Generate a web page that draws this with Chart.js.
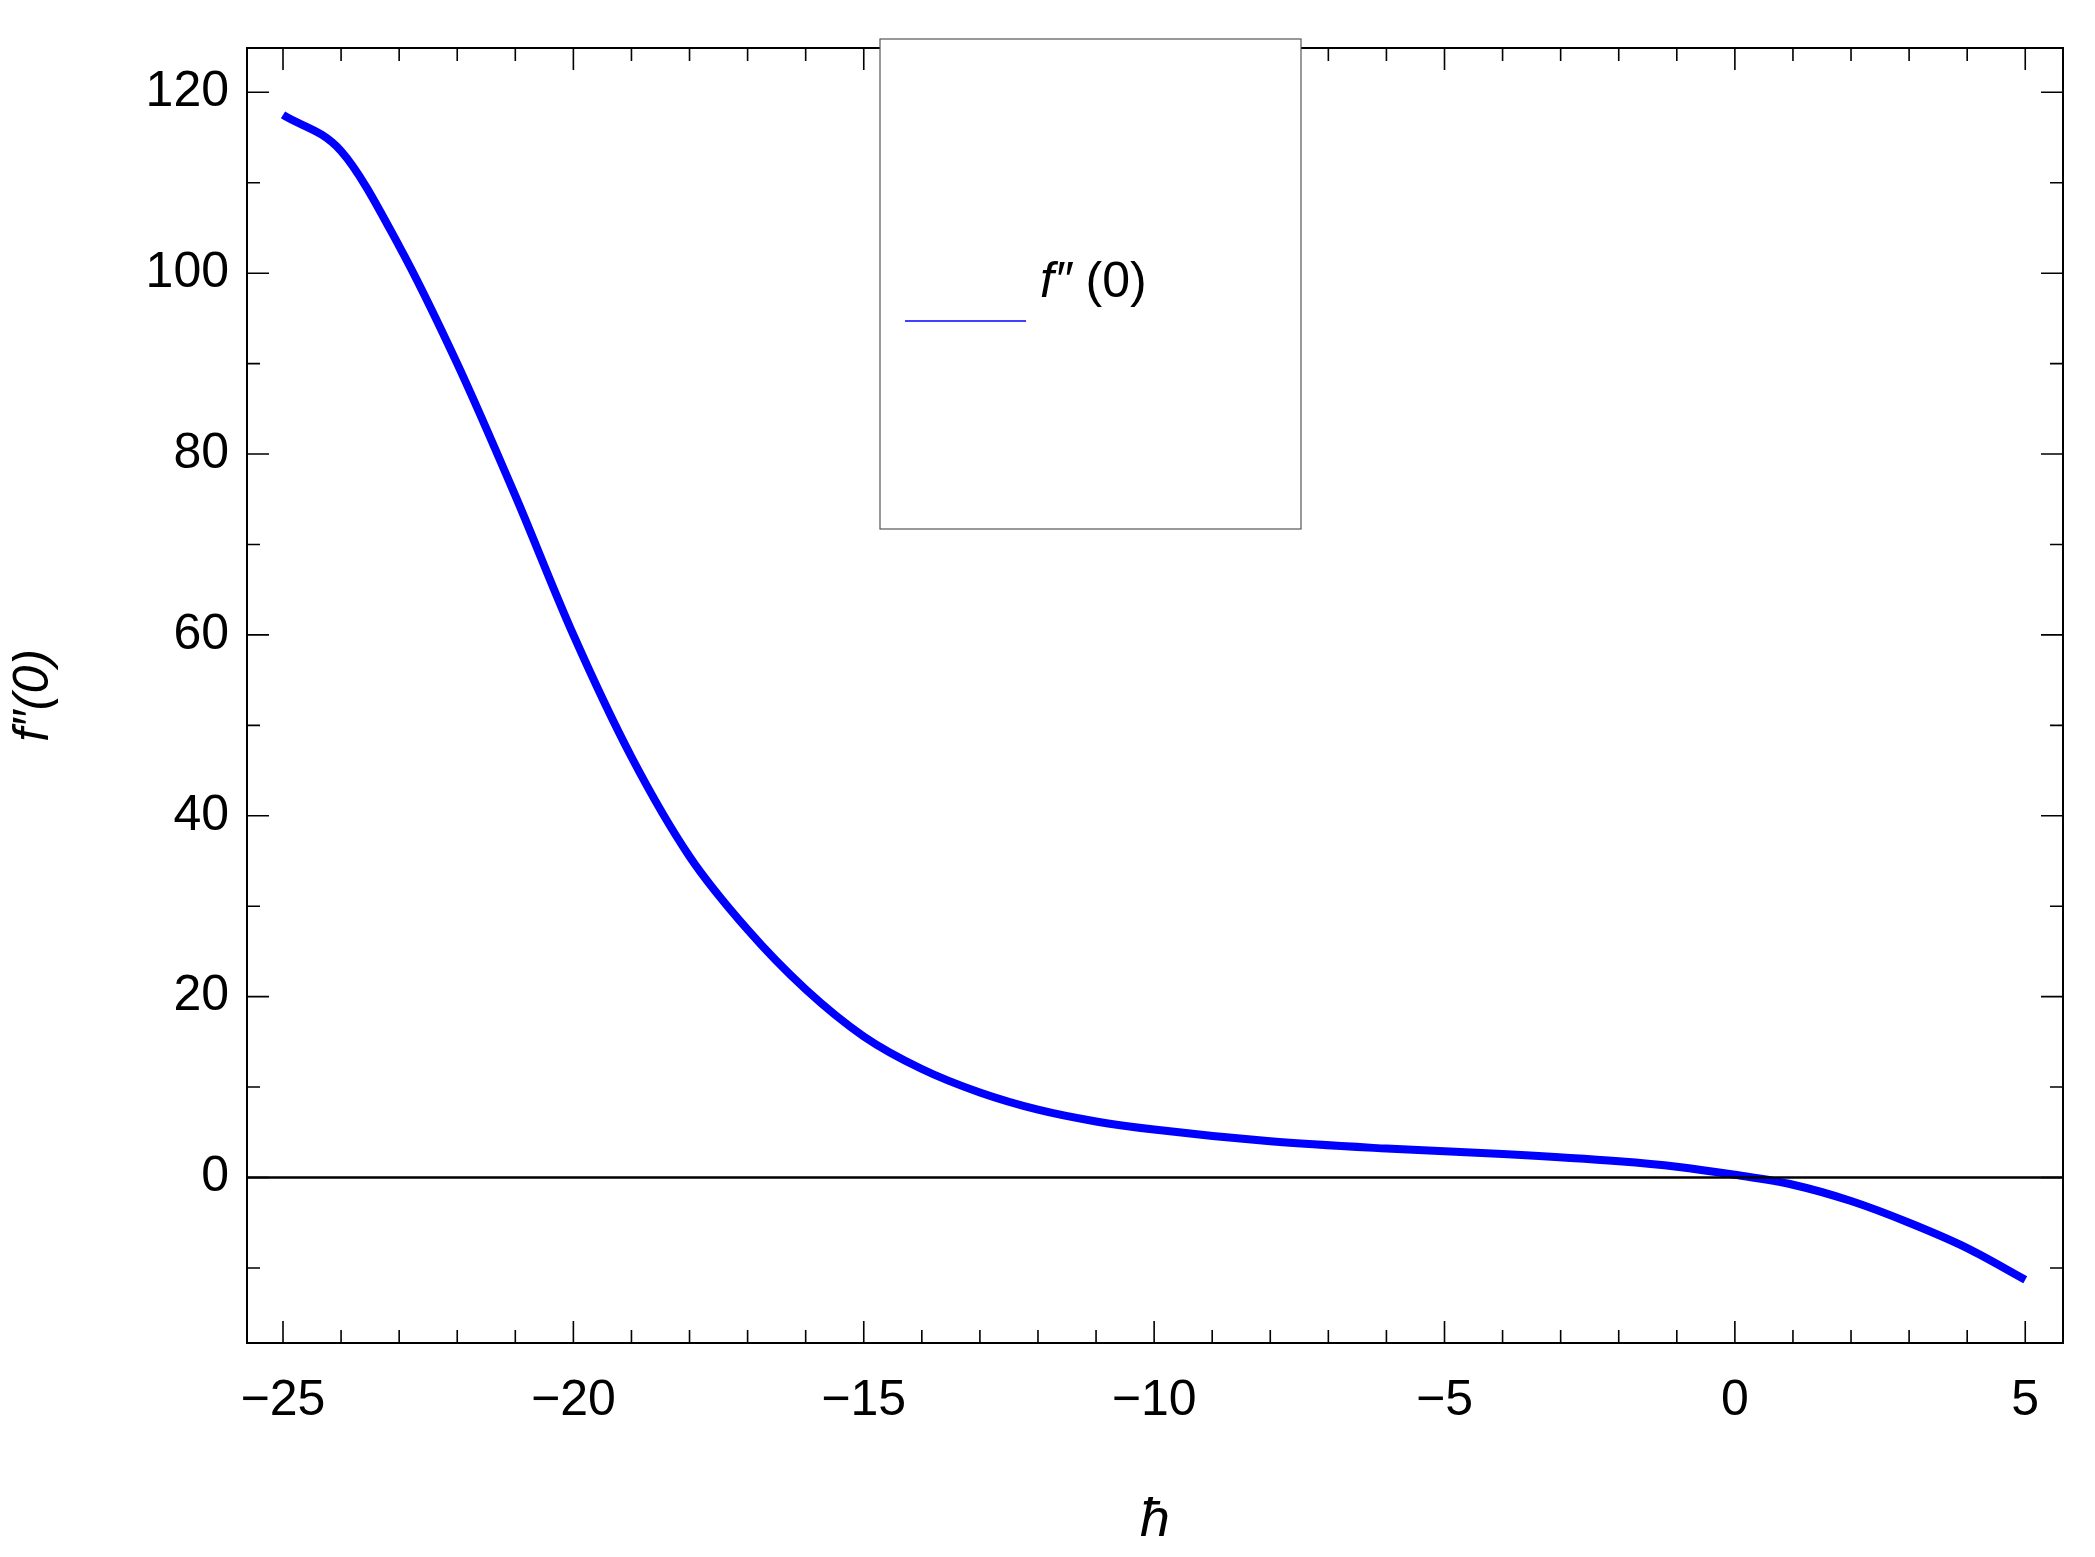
<!DOCTYPE html>
<html><head><meta charset="utf-8">
<script src="https://cdn.jsdelivr.net/npm/chart.js@4"></script>
<style>html,body{margin:0;background:#fff}#wrap{width:2095px;height:1557px}</style>
</head><body><div id="wrap"><canvas id="c"></canvas></div>
<script>
// hbar values and f''(0)
const hValues = [-25, -24, -23, -22, -21, -20, -19, -18, -17, -16, -15, -14, -13, -12, -11, -10, -8, -6, -4, -2, -1, 0, 1, 2, 3, 4, 5];
const fppValues = [117.5, 113.5, 103, 90, 75.4, 60, 46.5, 35.5, 27.4, 20.8, 15.6, 12, 9.4, 7.5, 6.2, 5.3, 4.0, 3.2, 2.6, 1.8, 1.2, 0.3, -0.8, -2.6, -5, -7.8, -11.3];
const xTicks = [-25, -20, -15, -10, -5, 0, 5];
const yTicks = [0, 20, 40, 60, 80, 100, 120];
const seriesLabel = "f\u2033(0)";

const FONT = "'Liberation Sans', Arial, sans-serif";

// frame, mirrored ticks, zero line, legend box
const framePlugin = {
  id: 'frame',
  afterDraw(chart) {
    const ctx = chart.ctx, a = chart.chartArea, xs = chart.scales.x, ys = chart.scales.y;
    ctx.save();
    ctx.strokeStyle = '#000';
    ctx.lineWidth = 2;
    ctx.strokeRect(a.left, a.top, a.right - a.left, a.bottom - a.top);
    ctx.lineWidth = 1.6;
    for (let v = -25; v <= 5; v++) {
      const px = xs.getPixelForValue(v), len = v % 5 === 0 ? 22 : 13;
      ctx.beginPath();
      ctx.moveTo(px, a.bottom); ctx.lineTo(px, a.bottom - len);
      ctx.moveTo(px, a.top); ctx.lineTo(px, a.top + len);
      ctx.stroke();
    }
    for (let v = -10; v <= 120; v += 10) {
      const py = ys.getPixelForValue(v), len = v % 20 === 0 ? 22 : 13;
      ctx.beginPath();
      ctx.moveTo(a.left, py); ctx.lineTo(a.left + len, py);
      ctx.moveTo(a.right, py); ctx.lineTo(a.right - len, py);
      ctx.stroke();
    }
    // zero line
    const y0 = ys.getPixelForValue(0);
    ctx.lineWidth = 2.5;
    ctx.beginPath(); ctx.moveTo(a.left, y0); ctx.lineTo(a.right, y0); ctx.stroke();
    // legend
    ctx.fillStyle = '#fff';
    ctx.lineWidth = 1.2;
    ctx.strokeStyle = '#555';
    ctx.fillRect(880, 39, 421, 490);
    ctx.strokeRect(880, 39, 421, 490);
    ctx.strokeStyle = '#0000ff';
    ctx.lineWidth = 1.5;
    ctx.beginPath(); ctx.moveTo(905, 321); ctx.lineTo(1026, 321); ctx.stroke();
    ctx.fillStyle = '#000';
    ctx.font = 'italic 50px ' + FONT;
    ctx.textBaseline = 'middle';
    ctx.fillText('f\u2033', 1040, 283);
    ctx.font = '50px ' + FONT;
    ctx.fillText('(0)', 1040 + ctx.measureText('f\u2033').width + 14, 283);
    ctx.restore();
  }
};

new Chart(document.getElementById('c'), {
  type: 'line',
  data: {
    datasets: [{
      label: seriesLabel,
      data: hValues.map((h, i) => ({ x: h, y: fppValues[i] })),
      borderColor: '#0000ff',
      borderWidth: 8,
      pointRadius: 0,
      cubicInterpolationMode: 'monotone',
      fill: false
    }]
  },
  options: {
    responsive: true,
    maintainAspectRatio: false,
    animation: false,
    layout: { padding: { top: 39, right: 32, left: 0, bottom: 0 } },
    plugins: { legend: { display: false }, tooltip: { enabled: false } },
    scales: {
      x: {
        type: 'linear', min: -25.62, max: 5.65,
        grid: { display: false, drawTicks: false },
        border: { display: false },
        afterBuildTicks: s => { s.ticks = xTicks.map(v => ({ value: v })); },
        afterFit: s => { s.height = 214; },
        ticks: {
          padding: 28, color: '#000', font: { family: FONT, size: 50 },
          callback: v => v < 0 ? '\u2212' + Math.abs(v) : String(v)
        },
        title: { display: true, text: '\u0127', color: '#000', padding: { top: 40 }, font: { family: FONT, size: 54, style: 'italic' } }
      },
      y: {
        type: 'linear', min: -18.3, max: 124.9,
        grid: { display: false, drawTicks: false },
        border: { display: false },
        afterBuildTicks: s => { s.ticks = yTicks.map(v => ({ value: v })); },
        afterFit: s => { s.width = 247; },
        ticks: { padding: 18, color: '#000', font: { family: FONT, size: 50 } },
        title: { display: true, text: 'f\u2033(0)', color: '#000', padding: { bottom: 14 }, font: { family: FONT, size: 50, style: 'italic' } }
      }
    }
  },
  plugins: [framePlugin]
});
</script></body></html>
